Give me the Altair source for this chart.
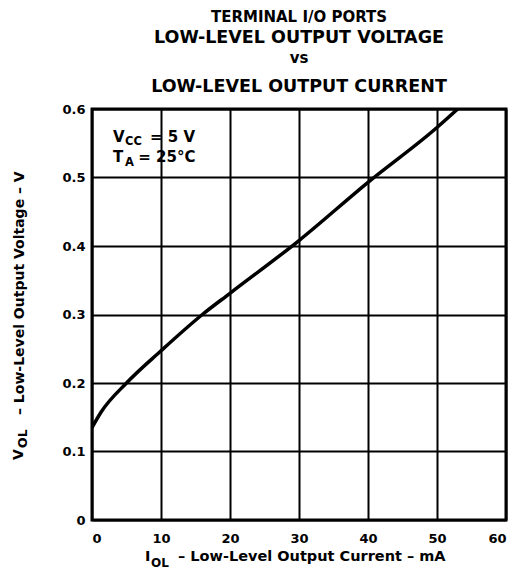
import altair as alt
import pandas as pd

# Data
current_mA = [0, 1.35, 5, 10, 16, 20, 30, 40, 50, 53]
vol_V = [0.135, 0.158, 0.2, 0.247, 0.3, 0.331, 0.408, 0.493, 0.573, 0.6]

x_ticks = [0, 10, 20, 30, 40, 50, 60]
y_ticks = [0, 0.1, 0.2, 0.3, 0.4, 0.5, 0.6]

title_lines = ["TERMINAL I/O PORTS", "LOW-LEVEL OUTPUT VOLTAGE", "vs", "LOW-LEVEL OUTPUT CURRENT"]

FONT = "DejaVu Sans"
W, H = 414, 411

df = pd.DataFrame({"I": current_mA, "V": vol_V})

base = alt.Chart(df)

line = base.mark_line(color="black", strokeWidth=3.5, interpolate="monotone", clip=True).encode(
    x=alt.X("I:Q", scale=alt.Scale(domain=[0, 60], nice=False),
            axis=alt.Axis(values=x_ticks, format="d", title=None, grid=True,
                          gridColor="black", gridWidth=2, gridOpacity=1,
                          ticks=False, domain=False, labelPadding=12,
                          labelFont=FONT, labelFontWeight="bold", labelFontSize=13,
                          labelColor="black")),
    y=alt.Y("V:Q", scale=alt.Scale(domain=[0, 0.6], nice=False),
            axis=alt.Axis(values=y_ticks, format=".1f", title=None, grid=True,
                          gridColor="black", gridWidth=2, gridOpacity=1,
                          labelExpr="datum.value == 0 ? '0' : datum.label",
                          ticks=False, domain=False, labelPadding=7,
                          labelFont=FONT, labelFontWeight="bold", labelFontSize=13,
                          labelColor="black")),
)


def txt(s, x, y, size, align="left", angle=0, weight="bold"):
    return alt.Chart(alt.Data(values=[{}])).mark_text(
        text=s, font=FONT, fontWeight=weight, fontSize=size, align=align,
        baseline="alphabetic", angle=angle, color="black"
    ).encode(x=alt.value(x), y=alt.value(y))


cx = W / 2
texts = [
    txt(title_lines[0], cx, -87.5, 15, align="center"),
    txt(title_lines[1], cx, -65.7, 17.5, align="center"),
    txt(title_lines[2], cx, -45.7, 15, align="center"),
    txt(title_lines[3], cx, -17.3, 17.5, align="center"),
    # annotation
    txt("V", 21, 32.7, 15),
    txt("CC", 33, 36, 11.5),
    txt("= 5 V", 58, 32.7, 15),
    txt("T", 21, 53.3, 15),
    txt("A", 33, 56.7, 11.5),
    txt("= 25°C", 46.3, 53.3, 15),
    # x axis title
    txt("I", 53, 452, 14.5),
    txt("OL", 59, 457.5, 12),
    txt("– Low-Level Output Current – mA", 86, 452, 14.5),
    # y axis title
    txt("V", -68.7, 351, 14, angle=270),
    txt("OL", -65.3, 339, 12.5, angle=270),
    txt("– Low-Level Output Voltage – V", -68, 306, 14, angle=270),
]

chart = alt.layer(line, *texts).properties(
    width=W, height=H,
    autosize=alt.AutoSizeParams(type="none"),
    padding={"left": 84, "top": 101, "right": 17, "bottom": 50},
).configure_view(stroke="black", strokeWidth=3)

chart.save("out.html", embed_options={"renderer": "svg", "actions": False})
